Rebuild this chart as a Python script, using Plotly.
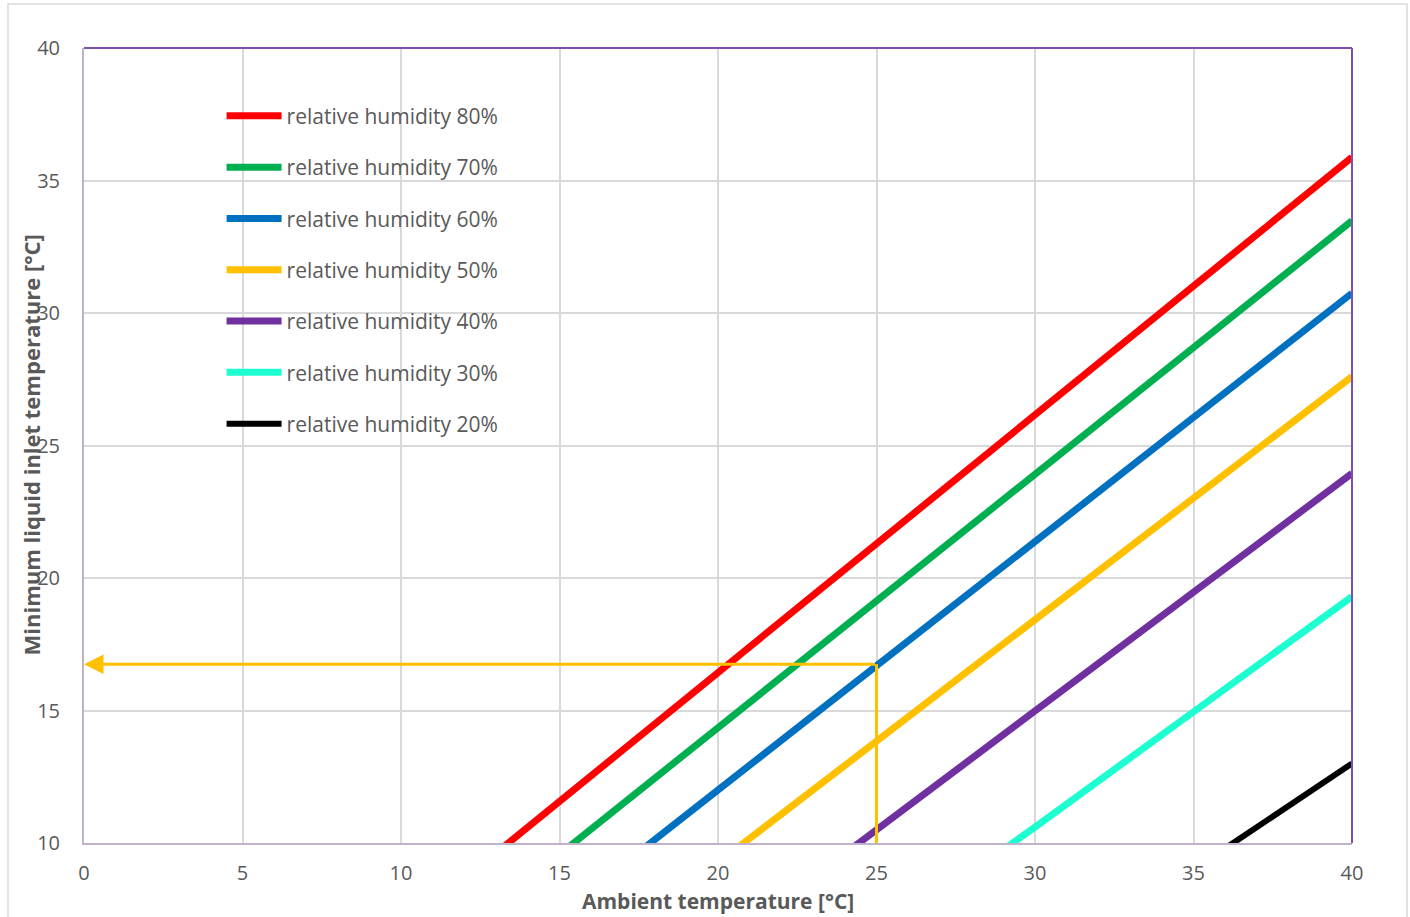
import plotly.graph_objects as go

# Ambient temperature grid [°C]
ambient = [12, 14, 16, 18, 20, 22, 24, 26, 28, 30, 32, 34, 36, 38, 40]

# Minimum liquid inlet temperature [°C] per relative humidity
rh80 = [8.65, 10.60, 12.55, 14.50, 16.44, 18.39, 20.33, 22.28, 24.22, 26.17, 28.11, 30.06, 32.00, 33.94, 35.88]
rh70 = [6.70, 8.61, 10.53, 12.44, 14.36, 16.27, 18.19, 20.10, 22.02, 23.93, 25.84, 27.75, 29.66, 31.57, 33.48]
rh60 = [4.50, 6.40, 8.23, 10.12, 12.00, 13.88, 15.75, 17.63, 19.51, 21.39, 23.26, 25.14, 27.01, 28.88, 30.75]
rh50 = [2.00, 3.70, 5.55, 7.42, 9.26, 11.09, 12.93, 14.77, 16.61, 18.44, 20.28, 22.11, 23.94, 25.77, 27.60]
rh40 = [-0.60, 1.30, 3.10, 4.95, 6.80, 7.80, 9.60, 11.40, 13.20, 15.00, 16.80, 18.60, 20.40, 22.20, 23.95]
rh30 = [-4.00, -2.20, -0.40, 1.50, 3.50, 5.40, 7.20, 7.10, 8.90, 10.60, 12.35, 14.10, 15.80, 17.55, 19.30]
rh20 = [-9.00, -7.30, -5.60, -3.90, -2.20, -0.40, 1.30, 3.00, 4.70, 6.40, 6.60, 8.20, 9.80, 11.43, 13.00]

series_names = ["relative humidity 80%", "relative humidity 70%", "relative humidity 60%",
                "relative humidity 50%", "relative humidity 40%", "relative humidity 30%",
                "relative humidity 20%"]
series_values = [rh80, rh70, rh60, rh50, rh40, rh30, rh20]
series_colors = ["#FF0000", "#00B050", "#0070C0", "#FFC000", "#7030A0", "#1DFFD0", "#000000"]

# Example reading: ambient 25 °C at 50 % RH
example_x = 25
example_y = 16.75

x_ticks = [0, 5, 10, 15, 20, 25, 30, 35, 40]
y_ticks = [10, 15, 20, 25, 30, 35, 40]

FONT = "Open Sans"
GRAY = "#595959"

fig = go.Figure()
for i, (name, vals, col) in enumerate(zip(series_names, series_values, series_colors)):
    fig.add_trace(go.Scatter(
        x=ambient, y=vals, name=name, mode="lines",
        line=dict(color=col, width=7 if col != "#000000" else 6),
        legendgroup=f"g{i}",
    ))

# vertical guide at 25 °C
fig.add_shape(type="line", x0=example_x, x1=example_x, y0=10, y1=example_y,
              xref="x", yref="y", line=dict(color="#FFC000", width=3))
# horizontal arrow to the y axis
fig.add_annotation(x=0, y=example_y, ax=example_x, ay=example_y,
                   xref="x", yref="y", axref="x", ayref="y",
                   text="", showarrow=True, arrowhead=2, arrowsize=1.3,
                   arrowwidth=3, arrowcolor="#FFC000")

# plot-area border (top and right)
fig.add_shape(type="line", xref="paper", yref="paper", x0=0, x1=1, y0=1, y1=1,
              line=dict(color="#7F4FB0", width=2), layer="above")
fig.add_shape(type="line", xref="paper", yref="paper", x0=1, x1=1, y0=0, y1=1,
              line=dict(color="#7F4FB0", width=2), layer="above")

# outer chart border (plot area: 1268 x 795 px; left 84 px, top 48 px)
PW, PH = 1268.0, 795.0
bx0 = (8 - 84) / PW
bx1 = (1407 - 84) / PW
by1 = (843 - 4) / PH
by0 = (843 - 1000) / PH
fig.add_shape(type="rect", xref="paper", yref="paper",
              x0=bx0, x1=bx1, y0=by0, y1=by1,
              line=dict(color="#D9D9D9", width=1.5), layer="below")

# y-axis title (overlaps tick labels as in the original)
fig.add_annotation(text="Minimum liquid inlet temperature [°C]", textangle=-90,
                   xref="paper", yref="paper", x=(30 - 84) / PW, y=0.5,
                   xanchor="center", yanchor="middle",
                   showarrow=False, font=dict(family=FONT, size=22, color=GRAY, weight="bold"))
# x-axis title
fig.add_annotation(text="Ambient temperature [°C]",
                   xref="paper", yref="paper", x=0.5, y=(843 - 901) / PH,
                   xanchor="center", yanchor="middle",
                   showarrow=False, font=dict(family=FONT, size=21, color=GRAY, weight="bold"))

fig.update_layout(
    width=1410, height=917,
    margin=dict(l=84, r=58, t=48, b=74),
    paper_bgcolor="white", plot_bgcolor="white",
    font=dict(family=FONT, color=GRAY),
    showlegend=True,
    legend=dict(x=0.1085, y=0.94, xanchor="left", yanchor="top",
                font=dict(family=FONT, size=21, color=GRAY),
                tracegroupgap=21, bgcolor="rgba(0,0,0,0)", itemwidth=55),
    xaxis=dict(range=[0, 40], tickvals=x_ticks, showgrid=True, gridcolor="#D9D9D9", gridwidth=1.5,
               zeroline=False, showline=True, linecolor="#BFB3CC", linewidth=2, automargin=False,
               tickfont=dict(family=FONT, size=20, color=GRAY), ticklabelstandoff=11),
    yaxis=dict(range=[10, 40], tickvals=y_ticks, showgrid=True, gridcolor="#D9D9D9", gridwidth=1.5,
               zeroline=False, showline=True, linecolor="#BFB3CC", linewidth=2, automargin=False,
               tickfont=dict(family=FONT, size=20, color=GRAY), ticklabelstandoff=18),
)

fig.write_html("out.html", config={"displayModeBar": False},
               post_script="document.body.style.margin='0px';")
